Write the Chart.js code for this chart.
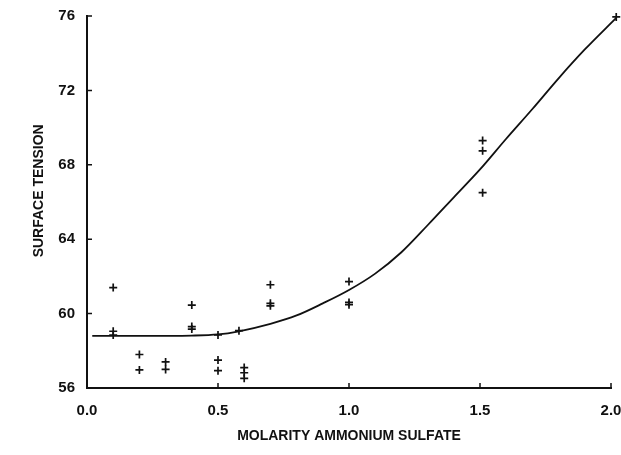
<!DOCTYPE html>
<html>
<head>
<meta charset="utf-8">
<title>Surface tension vs molarity ammonium sulfate</title>
<script src="https://cdn.jsdelivr.net/npm/chart.js@4/dist/chart.umd.min.js"></script>
<style>
  html, body { margin: 0; padding: 0; background: #fff; }
  #wrap { width: 621px; height: 455px; }
</style>
</head>
<body>
<div id="wrap"><canvas id="surface-chart"></canvas></div>
<script>
// measured points (molarity, surface tension)
var molarity = [0.1, 0.1, 0.1, 0.2, 0.2, 0.3, 0.3, 0.4, 0.4, 0.4, 0.5, 0.5, 0.5, 0.58,
  0.6, 0.6, 0.6, 0.7, 0.7, 0.7, 1.0, 1.0, 1.0, 1.51, 1.51, 1.51, 2.02, 2.02];
var tension = [61.4, 59.05, 58.85, 57.8, 56.97, 57.4, 57.0, 60.46, 59.3, 59.17, 58.85, 57.5, 56.93, 59.08,
  57.1, 56.82, 56.52, 61.55, 60.55, 60.42, 61.72, 60.6, 60.48, 69.3, 68.75, 66.5, 75.95, 75.75];

// fitted curve
var fitX = [0.02, 0.2, 0.4, 0.5, 0.58, 0.7, 0.8, 0.9, 1.0, 1.1, 1.2, 1.3, 1.4, 1.5, 1.6, 1.7, 1.8, 1.9, 2.02];
var fitY = [58.8, 58.8, 58.82, 58.88, 59.05, 59.45, 59.9, 60.55, 61.27, 62.15, 63.3, 64.75, 66.25, 67.75,
  69.4, 71.0, 72.65, 74.2, 75.9];

var xTicks = [0, 0.5, 1.0, 1.5, 2.0];
var yTicks = [56, 60, 64, 68, 72, 76];

var fontFamily = "'Liberation Sans', Arial, sans-serif";
var tickFont = { family: fontFamily, size: 15, weight: "bold" };
var titleFont = { family: fontFamily, size: 14, weight: "bold" };

// small tick marks pointing into the plot + the vertical axis title
var extras = {
  id: "extras",
  afterDraw: function (chart) {
    var ctx = chart.ctx;
    var xs = chart.scales.x, ys = chart.scales.y;
    var area = chart.chartArea;
    ctx.save();
    ctx.strokeStyle = "#111";
    ctx.lineWidth = 1.5;
    ctx.beginPath();
    xTicks.forEach(function (v) {
      var px = xs.getPixelForValue(v);
      ctx.moveTo(px, area.bottom);
      ctx.lineTo(px, area.bottom - 5);
    });
    yTicks.forEach(function (v) {
      var py = ys.getPixelForValue(v);
      ctx.moveTo(area.left, py);
      ctx.lineTo(area.left + 5, py);
    });
    ctx.stroke();

    // y title, sits a bit above the middle of the axis
    ctx.translate(39, ys.getPixelForValue(66.6));
    ctx.rotate(-Math.PI / 2);
    ctx.font = "bold 14px " + fontFamily;
    ctx.fillStyle = "#111";
    ctx.textAlign = "center";
    ctx.textBaseline = "middle";
    ctx.fillText("SURFACE TENSION", 0, 0);
    ctx.restore();
  }
};

var points = molarity.map(function (m, i) { return { x: m, y: tension[i] }; });
var curve = fitX.map(function (m, i) { return { x: m, y: fitY[i] }; });

var ctx = document.getElementById("surface-chart");
var myChart = new Chart(ctx, {
  type: "scatter",
  data: {
    datasets: [
      {
        label: "fit",
        data: curve,
        showLine: true,
        borderColor: "#111",
        borderWidth: 1.8,
        pointRadius: 0,
        cubicInterpolationMode: "monotone",
        clip: false,
      },
      {
        label: "measured",
        data: points,
        pointStyle: "cross",
        pointRadius: 4,
        borderColor: "#111",
        borderWidth: 1.7,
        clip: false,
      },
    ],
  },
  options: {
    responsive: true,
    maintainAspectRatio: false,
    animation: false,
    layout: { padding: { top: 16, right: 10, left: 0, bottom: 0 } },
    plugins: { legend: { display: false }, tooltip: { enabled: false } },
    scales: {
      x: {
        type: "linear",
        min: 0,
        max: 2,
        afterBuildTicks: function (scale) {
          scale.ticks = xTicks.map(function (v) { return { value: v }; });
        },
        afterFit: function (scale) {
          scale.height = 67;
          scale.paddingLeft = 0;
          scale.paddingRight = 0;
        },
        ticks: {
          color: "#111",
          font: tickFont,
          padding: 14,
          maxRotation: 0,
          callback: function (v) { return Number(v).toFixed(1); },
        },
        grid: { display: true, drawOnChartArea: false, drawTicks: false },
        border: { display: true, color: "#111", width: 2 },
        title: {
          display: true,
          text: "MOLARITY AMMONIUM SULFATE",
          color: "#111",
          font: titleFont,
          padding: { top: 0, bottom: 10 },
        },
      },
      y: {
        type: "linear",
        min: 56,
        max: 76,
        afterBuildTicks: function (scale) {
          scale.ticks = yTicks.map(function (v) { return { value: v }; });
        },
        afterFit: function (scale) {
          scale.width = 87;
          scale.paddingTop = 0;
          scale.paddingBottom = 0;
        },
        ticks: { color: "#111", font: tickFont, padding: 12 },
        grid: { display: true, drawOnChartArea: false, drawTicks: false },
        border: { display: true, color: "#111", width: 2 },
      },
    },
  },
  plugins: [extras],
});
</script>
</body>
</html>
